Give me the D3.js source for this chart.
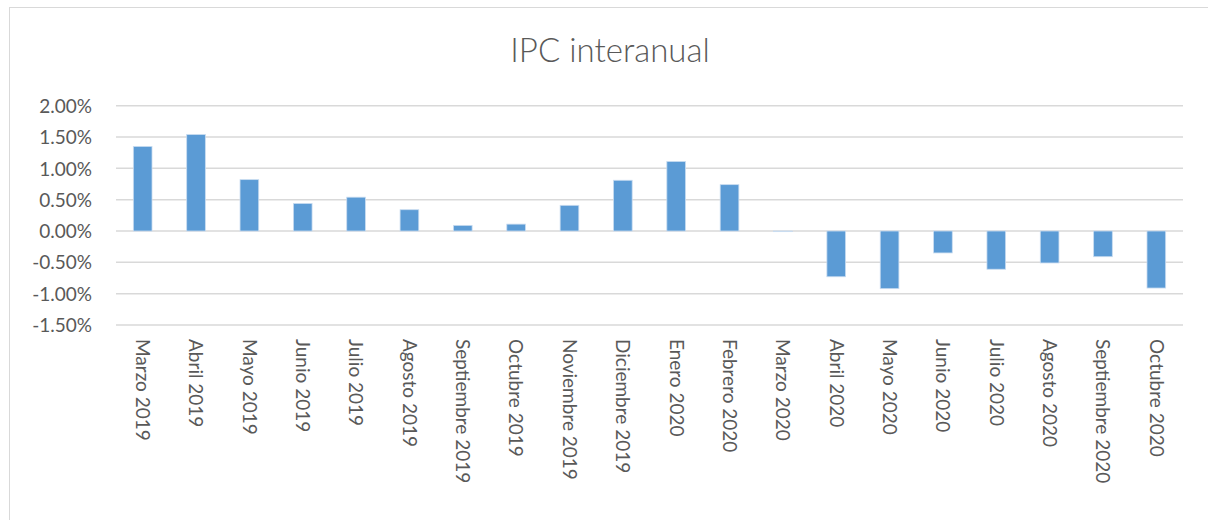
<!DOCTYPE html>
<html>
<head>
<meta charset="utf-8">
<script src="https://cdn.jsdelivr.net/npm/d3@7"></script>
<style>
  html, body { margin: 0; padding: 0; background: #fff; }
  svg { display: block; }
  text { font-family: Lato, "Noto Sans", sans-serif; fill: #595959; }
</style>
</head>
<body>
<svg id="chart" width="1208" height="520"></svg>
<script>
// Monthly year-on-year CPI change (%)
const months = [
  "Marzo 2019", "Abril 2019", "Mayo 2019", "Junio 2019", "Julio 2019",
  "Agosto 2019", "Septiembre 2019", "Octubre 2019", "Noviembre 2019",
  "Diciembre 2019", "Enero 2020", "Febrero 2020", "Marzo 2020",
  "Abril 2020", "Mayo 2020", "Junio 2020", "Julio 2020", "Agosto 2020",
  "Septiembre 2020", "Octubre 2020"
];
const ipcValues = [
  1.35, 1.54, 0.82, 0.44, 0.54, 0.34, 0.09, 0.11, 0.41, 0.81,
  1.11, 0.74, -0.01, -0.73, -0.92, -0.35, -0.61, -0.51, -0.41, -0.91
];
const yTicks = [2.0, 1.5, 1.0, 0.5, 0.0, -0.5, -1.0, -1.5];
const chartTitle = "IPC interanual";

const svg = d3.select("#chart");
const W = 1208, H = 520;
const plot = { left: 116, right: 1183, top: 105.7, bottom: 325 };

// Outer chart frame
svg.append("rect")
  .attr("x", 9.5).attr("y", 7.5)
  .attr("width", W + 10).attr("height", H + 10)
  .attr("fill", "none").attr("stroke", "#d9d9d9").attr("stroke-width", 1);

svg.append("text")
  .attr("x", 610).attr("y", 62)
  .attr("text-anchor", "middle")
  .style("font-size", "33px")
  .style("font-weight", 300)
  .text(chartTitle);

const x = d3.scaleBand().domain(months)
  .range([plot.left, plot.right]).paddingInner(0.65).paddingOuter(0.325);
const y = d3.scaleLinear().domain([-1.5, 2.0]).range([plot.bottom, plot.top]);

// Horizontal gridlines
svg.append("g")
  .selectAll("line").data(yTicks).join("line")
  .attr("x1", plot.left).attr("x2", plot.right)
  .attr("y1", d => y(d)).attr("y2", d => y(d))
  .attr("stroke", "#d9d9d9").attr("stroke-width", 1.5);

// Y axis labels (plain hyphen for negatives)
const pct = d => (d < 0 ? "-" : "") + Math.abs(d).toFixed(2) + "%";
const yAxis = d3.axisLeft(y).tickValues(yTicks)
  .tickFormat(pct).tickSize(0).tickPadding(0);
const gy = svg.append("g").attr("transform", `translate(${plot.left - 24},0)`).call(yAxis);
gy.select(".domain").remove();
gy.selectAll("text").style("font-size", "19px").attr("fill", "#595959")
  .style("font-family", "Lato, 'Noto Sans', sans-serif").attr("dy", "0.35em");

// Bars
svg.append("g")
  .selectAll("rect").data(months).join("rect")
  .attr("x", d => x(d))
  .attr("width", x.bandwidth())
  .attr("y", (d, i) => y(Math.max(0, ipcValues[i])))
  .attr("height", (d, i) => Math.abs(y(ipcValues[i]) - y(0)))
  .attr("fill", "#5b9bd5")
  .attr("stroke", "#c9dcf0").attr("stroke-width", 0.8);

// Rotated category labels
const xAxis = d3.axisBottom(x).tickSize(0).tickPadding(0);
const gx = svg.append("g").attr("transform", `translate(0,${plot.bottom + 14})`).call(xAxis);
gx.select(".domain").remove();
gx.selectAll("text")
  .style("font-size", "19px")
  .style("font-family", "Lato, 'Noto Sans', sans-serif")
  .attr("fill", "#595959")
  .attr("text-anchor", "start")
  .attr("transform", "rotate(90)")
  .attr("x", 0).attr("y", 0).attr("dy", "0.35em");
</script>
</body>
</html>
